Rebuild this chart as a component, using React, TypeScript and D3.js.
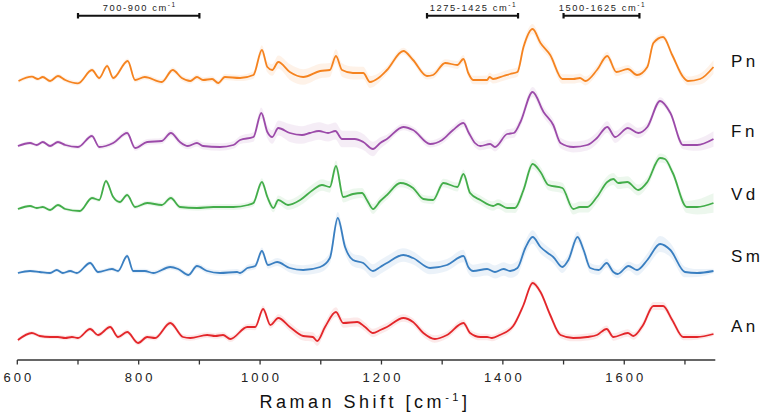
import React from "react";
import * as d3 from "d3";

// ---------- data (wavenumber, intensity above each trace baseline) ----------
const pnData: [number, number][] = [
  [602, 0], [624, 4.3], [634, 2], [642, 4], [654, 0], [667, 5], [679, 1], [700, -2.3], [723, 11], [735, 3],
  [748, 15], [758, 3], [782, 20], [794, 1], [810, 4], [838, -1], [856, 11], [871, 3], [885, 0], [896, 4],
  [906, 1], [921, 2], [931, -2], [942, 4], [967, 3], [989, 6], [1003, 31], [1012, 14], [1020, 11], [1030, 19],
  [1049, 9], [1071, 4], [1099, 10], [1115, 11], [1125, 25], [1135, 11], [1153, 8], [1170, 8], [1181, -1], [1195, 3],
  [1209, 11], [1236, 30], [1252, 21], [1275, 5], [1285, 6], [1305, 18], [1325, 16], [1335, 22], [1343, 8], [1351, 1],
  [1374, 1], [1378, 4], [1384, 2], [1401, 5], [1412, 7], [1424, 9], [1434, 34], [1449, 52], [1462, 38], [1478, 26],
  [1498, 2], [1516, 2], [1527, 3], [1536, 0], [1555, 11], [1572, 25], [1587, 9], [1606, 12], [1621, 6], [1638, 14],
  [1648, 38], [1664, 44], [1679, 26], [1697, 4], [1705, 0], [1725, 2], [1747, 14],
];
const fnData: [number, number][] = [
  [601, 0], [621, 3], [632, 1], [642, 4], [654, 0], [667, 4], [679, 1], [700, -1], [723, 10], [735, -1],
  [758, 3], [781, 13], [794, -2], [814, 4], [838, 5], [853, 13], [868, 4], [881, 0], [896, 3], [906, 0],
  [934, -1], [956, 1], [967, 6], [989, 9], [1002, 33], [1012, 14], [1020, 9], [1030, 18], [1049, 13], [1069, 11],
  [1082, 13], [1097, 15], [1112, 13], [1124, 15], [1135, 7], [1156, 7], [1170, 4], [1186, -3], [1198, 3], [1209, 7],
  [1236, 19], [1252, 16], [1280, 2], [1300, 6], [1318, 16], [1335, 23], [1344, 13], [1354, 3], [1363, 0], [1379, 2],
  [1387, -1], [1407, 12], [1418, 13], [1429, 24], [1449, 54], [1467, 34], [1483, 21], [1495, 3], [1516, -1], [1539, 1],
  [1555, 8], [1572, 19], [1585, 9], [1606, 18], [1623, 13], [1638, 19], [1659, 45], [1676, 33], [1697, 1], [1720, 1],
  [1747, 7],
];
const vdData: [number, number][] = [
  [601, 0], [621, 3], [632, 1], [642, 2], [654, -1], [667, 4], [679, 0], [703, -2], [723, 11], [735, 9],
  [746, 28], [758, 12], [769, 7], [781, 14], [794, 2], [814, 6], [838, 4], [853, 11], [868, 2], [896, 1],
  [923, 2], [956, 2], [980, 4], [989, 6], [1003, 27], [1012, 12], [1022, 1], [1030, 9], [1046, 4], [1066, 9],
  [1087, 19], [1102, 24], [1115, 22], [1125, 43], [1137, 12], [1153, 15], [1168, 16], [1176, 9], [1186, 0], [1198, 8],
  [1209, 14], [1231, 26], [1252, 21], [1269, 10], [1285, 9], [1302, 26], [1325, 22], [1335, 35], [1346, 16], [1363, 9],
  [1384, 3], [1392, 5], [1407, 1], [1420, 1], [1434, 19], [1449, 45], [1462, 37], [1475, 24], [1498, 21], [1516, 0],
  [1527, 2], [1539, 2], [1555, 12], [1572, 27], [1582, 30], [1590, 26], [1605, 27], [1623, 19], [1638, 27], [1659, 51],
  [1667, 50], [1680, 36], [1703, 2], [1720, 2], [1747, 6],
];
const smData: [number, number][] = [
  [601, -1], [621, 1], [637, 0], [654, -1], [665, 2], [675, -1], [687, 1], [698, -1], [720, 9], [733, 0],
  [756, 3], [766, 1], [781, 16], [791, 1], [810, 1], [824, -1], [852, 5], [865, 3], [882, -3], [896, 6],
  [913, 1], [934, -1], [962, 0], [967, -1], [979, 4], [992, 6], [1003, 21], [1013, 7], [1028, 10], [1049, 4],
  [1071, 2], [1099, 5], [1115, 14], [1128, 54], [1140, 25], [1153, 12], [1170, 9], [1186, 1], [1198, 5], [1209, 9],
  [1236, 17], [1252, 14], [1280, 4], [1308, 7], [1335, 16], [1343, 5], [1351, 1], [1374, 3], [1387, 0], [1401, 3],
  [1412, 1], [1424, 4], [1437, 24], [1449, 35], [1462, 25], [1474, 19], [1483, 15], [1498, 5], [1508, 12], [1523, 35],
  [1533, 22], [1544, 4], [1558, 2], [1571, 9], [1582, 0], [1589, -2], [1607, 6], [1621, 2], [1638, 12], [1659, 28],
  [1676, 22], [1700, 0], [1720, -1], [1747, 1],
];
const anData: [number, number][] = [
  [601, 0], [624, 7], [637, 4], [654, 3], [667, 3], [679, 2], [690, 3], [700, 2], [720, 11], [733, 5],
  [753, 13], [766, 3], [781, 8], [799, -3], [814, 3], [827, 2], [852, 17], [873, 3], [885, 2], [913, 5],
  [926, 4], [939, 5], [951, 1], [979, 13], [992, 13], [1005, 31], [1017, 15], [1030, 22], [1049, 13], [1071, 4],
  [1087, 3], [1094, -1], [1107, 13], [1125, 28], [1137, 17], [1160, 18], [1173, 13], [1186, 7], [1198, 10], [1209, 13],
  [1236, 22], [1252, 18], [1269, 7], [1288, 1], [1308, 5], [1335, 17], [1346, 7], [1363, 3], [1374, 3], [1382, 2],
  [1395, 5], [1417, 14], [1434, 35], [1449, 57], [1462, 48], [1478, 25], [1495, 5], [1516, 2], [1539, 3], [1555, 5],
  [1571, 11], [1582, 3], [1606, 7], [1615, 4], [1631, 15], [1648, 34], [1664, 34], [1679, 20], [1697, 3], [1720, 3],
  [1747, 6],
];

// band half-widths (std) at a few wavenumbers
const pnStd: [number, number][] = [[600, 2], [980, 3], [1050, 8], [1180, 6], [1220, 3], [1440, 5], [1600, 4], [1680, 3], [1750, 7]];
const fnStd: [number, number][] = [[600, 1.5], [980, 4], [1050, 9], [1180, 8], [1220, 3], [1440, 5], [1600, 6], [1680, 3], [1750, 8]];
const vdStd: [number, number][] = [[600, 1.5], [980, 3], [1080, 6], [1180, 5], [1250, 4], [1440, 5], [1600, 6], [1680, 4], [1750, 10]];
const smStd: [number, number][] = [[600, 1.5], [980, 3], [1130, 6], [1200, 7], [1300, 6], [1440, 7], [1600, 4], [1660, 8], [1750, 2]];
const anStd: [number, number][] = [[600, 2], [980, 3], [1100, 5], [1200, 4], [1440, 3], [1660, 4], [1750, 2]];

const seriesNames = ["Pn", "Fn", "Vd", "Sm", "An"];
const seriesColors = ["#f5831f", "#9b4aa9", "#43ad4a", "#3a7fc1", "#e3262a"];
const seriesOffsets = [259, 194, 131, 68, 0];
const labelShift = [14, 9, 9, 10, 8];
const seriesData = [pnData, fnData, vdData, smData, anData];
const seriesStd = [pnStd, fnStd, vdStd, smStd, anStd];

const xTicks = [600, 700, 800, 900, 1000, 1100, 1200, 1300, 1400, 1500, 1600, 1700];
const xTickLabels = [600, 800, 1000, 1200, 1400, 1600];
const brackets: [number, number, string][] = [
  [700, 900, "700-900 cm"],
  [1275, 1425, "1275-1425 cm"],
  [1500, 1625, "1500-1625 cm"],
];

const W = 763;
const H = 417;
const FONT = "'Liberation Sans', Arial, sans-serif";

export default function App() {
  const x = d3.scaleLinear().domain([600, 1750]).range([17.3, 715.3]);
  const y = d3.scaleLinear().domain([0, 340]).range([340, 0]);
  const axisY = 360;

  return (
    <svg width={W} height={H} style={{ position: "absolute", left: 0, top: 0, background: "#fff" }}>
      {/* bands */}
      {seriesData.map((data, i) => {
        const off = seriesOffsets[i];
        const sd = d3.scaleLinear().domain(seriesStd[i].map((d) => d[0])).range(seriesStd[i].map((d) => d[1]));
        const area = d3
          .area<[number, number]>()
          .x((d) => x(d[0]))
          .y0((d) => y(off + d[1] - sd(d[0])))
          .y1((d) => y(off + d[1] + sd(d[0])))
          .curve(d3.curveMonotoneX);
        return <path key={"b" + i} d={area(data) || ""} fill={seriesColors[i]} opacity={0.1} />;
      })}
      {/* lines */}
      {seriesData.map((data, i) => {
        const off = seriesOffsets[i];
        const line = d3
          .line<[number, number]>()
          .x((d) => x(d[0]))
          .y((d) => y(off + d[1]))
          .curve(d3.curveMonotoneX);
        return (
          <path key={"l" + i} d={line(data) || ""} fill="none" stroke={seriesColors[i]} strokeWidth={1.8} strokeLinejoin="round" />
        );
      })}
      {/* series labels */}
      {seriesNames.map((n, i) => (
        <text
          key={"n" + i}
          x={731}
          y={y(seriesOffsets[i]) - labelShift[i]}
          fontFamily={FONT}
          fontSize={17}
          letterSpacing={3.5}
          fill="#111"
        >
          {n}
        </text>
      ))}
      {/* brackets */}
      {brackets.map(([a, b, label], i) => (
        <g key={"br" + i}>
          <line x1={x(a)} x2={x(b)} y1={15.7} y2={15.7} stroke="#111" strokeWidth={2} />
          <line x1={x(a)} x2={x(a)} y1={13} y2={18.5} stroke="#111" strokeWidth={2.2} />
          <line x1={x(b)} x2={x(b)} y1={13} y2={18.5} stroke="#111" strokeWidth={2.2} />
          <text x={(x(a) + x(b)) / 2 + 1} y={10.5} textAnchor="middle" fontFamily={FONT} fontSize={9.3} letterSpacing={1.6} fill="#222">
            {label}
            <tspan fontSize={6.5} dy={-3.5}>
              -1
            </tspan>
          </text>
        </g>
      ))}
      {/* x axis */}
      <line x1={x(600)} x2={x(1750)} y1={axisY} y2={axisY} stroke="#333" strokeWidth={1.5} />
      {xTicks.map((t) => (
        <line key={"t" + t} x1={x(t)} x2={x(t)} y1={axisY} y2={axisY + 4.5} stroke="#333" strokeWidth={1.3} />
      ))}
      {xTickLabels.map((t) => (
        <text
          key={"tl" + t}
          x={x(t) + 1.5}
          y={382}
          textAnchor="middle"
          fontFamily={FONT}
          fontSize={13}
          letterSpacing={3}
          fill="#222"
        >
          {t}
        </text>
      ))}
      <text x={365} y={408} textAnchor="middle" fontFamily={FONT} fontSize={18} letterSpacing={3.5} fill="#111">
        Raman Shift [cm
        <tspan fontSize={11} dy={-7}>
          -1
        </tspan>
        <tspan dy={7}>]</tspan>
      </text>
    </svg>
  );
}
